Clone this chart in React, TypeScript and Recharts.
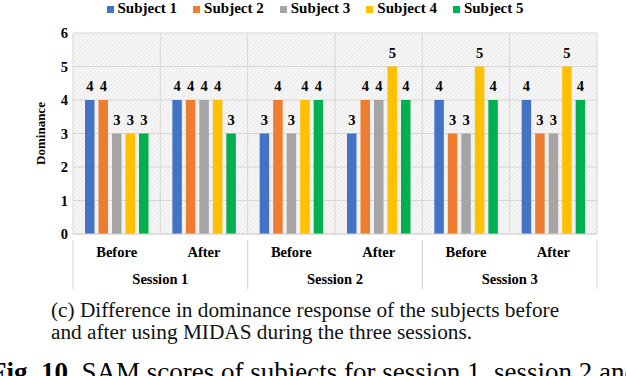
import React from 'react'
import { BarChart, Bar, XAxis, YAxis, CartesianGrid, Legend, LabelList } from 'recharts'

// phases and sessions along the x axis
const phases = ['Before', 'After', 'Before', 'After', 'Before', 'After']
const sessions = ['Session 1', 'Session 1', 'Session 2', 'Session 2', 'Session 3', 'Session 3']

// dominance score per subject
const subject1 = [4, 4, 3, 3, 4, 4]
const subject2 = [4, 4, 4, 4, 3, 3]
const subject3 = [3, 4, 3, 4, 3, 3]
const subject4 = [3, 4, 4, 5, 5, 5]
const subject5 = [3, 3, 4, 4, 4, 4]

const yTicks = [0, 1, 2, 3, 4, 5, 6]

const SERIES = [
    { key: 'Subject 1', values: subject1, color: '#4472C4' },
    { key: 'Subject 2', values: subject2, color: '#ED7D31' },
    { key: 'Subject 3', values: subject3, color: '#A5A5A5' },
    { key: 'Subject 4', values: subject4, color: '#FFC000' },
    { key: 'Subject 5', values: subject5, color: '#00B050' },
]

const data = phases.map((phase, i) => {
    const row: Record<string, string | number> = { phase, session: sessions[i] }
    SERIES.forEach((s) => { row[s.key] = s.values[i] })
    return row
})

const FONT = '"Liberation Serif", "Times New Roman", serif'
const GRID = '#d6d6d6'
const PHASE_AXIS_H = 26

const SessionTick = (props: any) => {
    const { x, y, width, payload } = props
    const band = (width ?? 524) / 3
    const top = y - PHASE_AXIS_H - 2
    return (
        <g>
            <line x1={x - band / 2} x2={x - band / 2} y1={top} y2={top + 49} stroke={GRID} />
            <line x1={x + band / 2} x2={x + band / 2} y1={top} y2={top + 49} stroke={GRID} />
            <text x={x} y={y + 16} textAnchor="middle" fontFamily={FONT} fontWeight="bold" fontSize={14.5} fill="#000">
                {payload.value}
            </text>
        </g>
    )
}

const App: React.FC = () => {
    return (
        <div style={{ position: 'absolute', left: 0, top: 0, width: 626, height: 376, overflow: 'hidden', background: '#fff', fontFamily: FONT }}>
            <BarChart
                width={626}
                height={292}
                data={data}
                margin={{ top: 16, right: 29, left: 14, bottom: 2 }}
                barSize={9.5}
                barGap={4}
            >
                <defs>
                    <pattern id="hatch" width="3" height="3" patternUnits="userSpaceOnUse" patternTransform="rotate(45)">
                        <rect width="3" height="3" fill="#f7f7f7" />
                        <line x1="0" y1="0" x2="0" y2="3" stroke="#dedede" strokeWidth="1.2" />
                    </pattern>
                </defs>
                <CartesianGrid
                    stroke={GRID}
                    fill="url(#hatch)"
                    fillOpacity={1}
                    verticalCoordinatesGenerator={({ offset }: any) =>
                        phases.map((_, i) => offset.left + (offset.width * i) / phases.length).concat(offset.left + offset.width)
                    }
                />
                <Legend
                    verticalAlign="top"
                    iconType="square"
                    iconSize={7}
                    wrapperStyle={{ top: 0, left: 0, width: 626, boxSizing: 'border-box', paddingLeft: 20, fontFamily: FONT, fontWeight: 'bold', fontSize: 15 }}
                    formatter={(value: string) => <span style={{ color: '#000', marginRight: 6 }}>{value}</span>}
                />
                <XAxis
                    xAxisId="phase"
                    dataKey="phase"
                    height={PHASE_AXIS_H}
                    tickLine={false}
                    axisLine={{ stroke: GRID }}
                    tickMargin={7}
                    tick={{ fontFamily: FONT, fontWeight: 'bold', fontSize: 14.5, fill: '#000' }}
                />
                <XAxis
                    xAxisId="session"
                    dataKey="session"
                    allowDuplicatedCategory={false}
                    height={30}
                    tickLine={false}
                    axisLine={false}
                    tick={<SessionTick />}
                />
                <YAxis
                    domain={[0, 6]}
                    ticks={yTicks}
                    width={59}
                    tickLine={false}
                    axisLine={false}
                    tickSize={0}
                    tickMargin={5}
                    tick={{ fontFamily: FONT, fontWeight: 'bold', fontSize: 14.5, fill: '#000' }}
                    label={{ value: 'Dominance', angle: -90, position: 'insideLeft', offset: 26, style: { fontFamily: FONT, fontWeight: 'bold', fontSize: 13, fill: '#000', textAnchor: 'middle' } }}
                />
                {SERIES.map((s) => (
                    <Bar key={s.key} xAxisId="phase" dataKey={s.key} fill={s.color} isAnimationActive={false}>
                        <LabelList dataKey={s.key} position="top" offset={9} style={{ fontFamily: FONT, fontWeight: 'bold', fontSize: 14.5, fill: '#000' }} />
                    </Bar>
                ))}
            </BarChart>
            <div style={{ position: 'absolute', left: 51, top: 299, fontSize: 21.3, lineHeight: '22px', color: '#111', whiteSpace: 'nowrap' }}>
                (c) Difference in dominance response of the subjects before<br />
                and after using MIDAS during the three sessions.
            </div>
            <div style={{ position: 'absolute', left: -10, top: 359, fontSize: 27, lineHeight: '27px', color: '#000', whiteSpace: 'nowrap' }}>
                <b>Fig. 10.</b> SAM scores of subjects for session 1, session 2 and session 3.
            </div>
        </div>
    )
}

export default App
